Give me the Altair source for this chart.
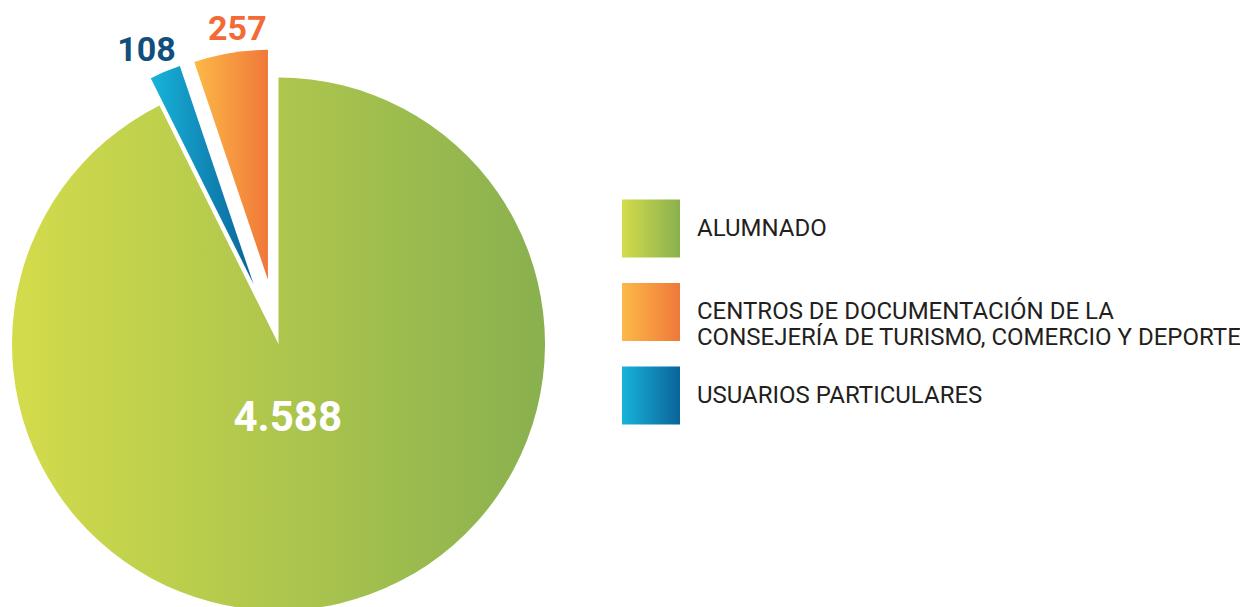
import altair as alt
import pandas as pd

# ---- data (pie order, clockwise from 12 o'clock) ----
keys = ["alumnado", "usuarios", "centros"]
values = [4588, 108, 257]
value_labels = ["4.588", "108", "257"]

# ---- legend (top to bottom) ----
legend_keys = ["alumnado", "centros", "usuarios"]
legend_texts = [
    "ALUMNADO",
    "CENTROS DE DOCUMENTACIÓN DE LA\nCONSEJERÍA DE TURISMO, COMERCIO Y DEPORTE",
    "USUARIOS PARTICULARES",
]

# ---- styling ----
CX, CY = 270.5, 336.0
explode = {"alumnado": 0, "usuarios": 65, "centros": 65}
radius = {"alumnado": 266.5, "usuarios": 230, "centros": 230}
label_r = {"alumnado": 75, "usuarios": 255, "centros": 250}
label_dx = {"alumnado": -8, "usuarios": -9, "centros": 10}
label_dy = {"alumnado": 1, "usuarios": 2, "centros": -3}
label_color = {"alumnado": "#ffffff", "usuarios": "#114f7c", "centros": "#f26a36"}
label_size = {"alumnado": 42, "usuarios": 34, "centros": 34}


def grad(c0, c1):
    return alt.LinearGradient(
        gradient="linear",
        stops=[alt.GradientStop(color=c0, offset=0), alt.GradientStop(color=c1, offset=1)],
        x1=0, x2=1, y1=0, y2=0,
    )


fills = {
    "alumnado": grad("#d3dc4b", "#89b04f"),
    "centros": grad("#fcb947", "#f0783a"),
    "usuarios": grad("#17b4da", "#0b6399"),
}

df = pd.DataFrame({
    "key": keys,
    "value": values,
    "vlabel": value_labels,
    "order": list(range(len(keys))),
    "explode": [explode[k] for k in keys],
    "lr": [label_r[k] for k in keys],
    "ldx": [label_dx[k] for k in keys],
    "ldy": [label_dy[k] for k in keys],
    "lcolor": [label_color[k] for k in keys],
    "lsize": [label_size[k] for k in keys],
})

base = (
    alt.Chart(df)
    .transform_window(cum="sum(value)", sort=[alt.SortField("order")], frame=[None, 0])
    .transform_joinaggregate(total="sum(value)")
    .transform_calculate(
        t0="2*PI*(datum.cum - datum.value)/datum.total",
        t1="2*PI*datum.cum/datum.total",
    )
    .transform_calculate(mid="(datum.t0 + datum.t1)/2")
    .transform_calculate(
        cx=f"{CX} + datum.explode*sin(datum.mid)",
        cy=f"{CY} - datum.explode*cos(datum.mid)",
    )
    .transform_calculate(
        lx="datum.cx + datum.lr*sin(datum.mid) + datum.ldx",
        ly="datum.cy - datum.lr*cos(datum.mid) + datum.ldy",
    )
)

arcs = []
for k in keys:
    arcs.append(
        base.transform_filter(alt.datum.key == k)
        .mark_arc(fill=fills[k], radius=radius[k], strokeWidth=0)
        .encode(
            theta=alt.Theta("t0:Q", scale=None),
            theta2="t1:Q",
            x=alt.X("cx:Q", scale=None, axis=None),
            y=alt.Y("cy:Q", scale=None, axis=None),
        )
    )

labels = base.mark_text(
    font="Roboto", fontWeight="bold", align="center", baseline="middle"
).encode(
    x=alt.X("lx:Q", scale=None, axis=None),
    y=alt.Y("ly:Q", scale=None, axis=None),
    text="vlabel:N",
    color=alt.Color("lcolor:N", scale=None),
    size=alt.Size("lsize:Q", scale=None),
)

leg_df = pd.DataFrame({"lkey": legend_keys, "ltext": legend_texts})
yscale = alt.Scale(domain=legend_keys, range=[220.5, 387.5], padding=0)

leg_squares = []
for k in legend_keys:
    leg_squares.append(
        alt.Chart(leg_df)
        .transform_filter(alt.datum.lkey == k)
        .mark_square(size=58 * 58, fill=fills[k], opacity=1, strokeWidth=0)
        .encode(
            x=alt.value(643),
            y=alt.Y("lkey:N", scale=yscale, axis=None),
        )
    )

leg_text = (
    alt.Chart(leg_df)
    .mark_text(
        font="Roboto", fontSize=24, color="#231f20", align="left",
        baseline="middle", lineBreak="\n", lineHeight=26,
    )
    .encode(
        x=alt.value(689),
        y=alt.Y("lkey:N", scale=yscale, axis=None),
        text="ltext:N",
    )
)

pie = alt.layer(*arcs, labels)
legend = alt.layer(*leg_squares, leg_text)

chart = (
    alt.layer(pie, legend)
    .resolve_scale(x="independent", y="independent")
    .properties(width=1232, height=599, padding=0, background="white",
                autosize=alt.AutoSizeParams(type="none"))
    .configure_view(stroke="transparent", strokeWidth=0)
)

chart.save("out.html", embed_options={"renderer": "svg", "actions": False})
